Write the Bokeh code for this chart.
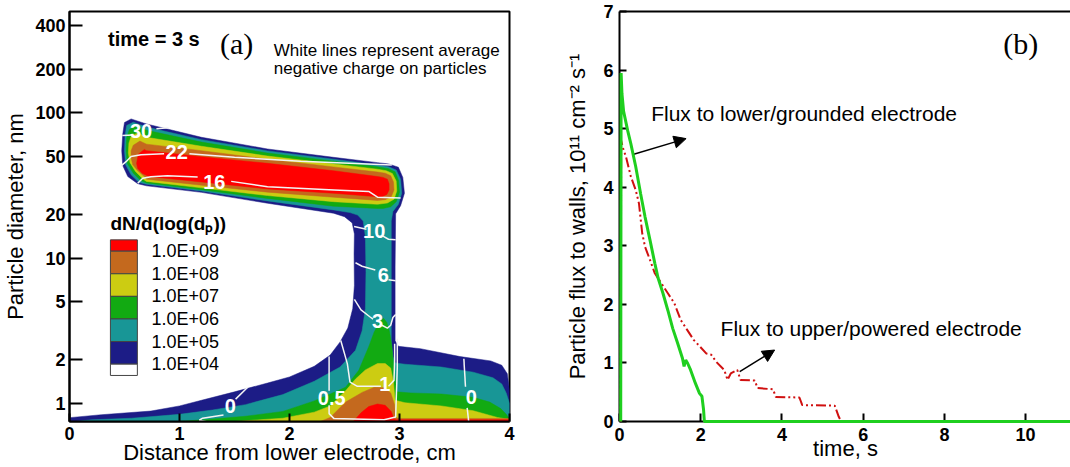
import math
from bokeh.plotting import figure
from bokeh.layouts import row
from bokeh.models import (Range1d, FixedTicker, NumeralTickFormatter, Label,
                          Arrow, NormalHead, LinearAxis, BoxAnnotation)
from bokeh.core.properties import value
from bokeh.embed import file_html
from bokeh.resources import INLINE

SANS = "Liberation Sans"
SERIF = "Liberation Serif"

# ---------------- panel (a): size distribution at t = 3 s ----------------
X_TICKS_A = [0, 1, 2, 3, 4]
D_TICKS = [1, 2, 5, 10, 20, 50, 100, 200, 400]
LEVEL_LABELS = ["1.0E+09", "1.0E+08", "1.0E+07", "1.0E+06", "1.0E+05", "1.0E+04"]
LEVEL_COLORS = ["#ff0000", "#c4691e", "#cccc12", "#12aa12", "#189696", "#1c1c86", "#ffffff"]

# filled regions (x in cm, diameter in nm), one list pair per region
B4_X = [0.484, 0.50, 0.56, 0.70, 1.20, 1.80, 2.40, 2.80, 2.90, 2.99, 3.03, 3.045, 3.01, 2.965,
        2.96, 2.96, 2.99, 3.19, 3.55, 3.83, 3.93, 3.98, 4.00, 4.00, 0.00, 0.00,
        0.29, 0.74, 1.00, 1.20, 1.50, 1.80, 2.00, 2.225, 2.37, 2.46, 2.53, 2.575, 2.59, 2.587, 2.59,
        2.57, 2.50, 2.40, 1.80, 1.20, 0.70, 0.62, 0.53, 0.484, 0.475]
B4_D = [71.7, 86, 91, 84, 68, 56.5, 49.5, 45.5, 44.6, 42.3, 36, 28, 23, 20.2,
        8.7, 2.7, 2.47, 2.38, 2.10, 1.96, 1.83, 1.60, 1.23, 0.75, 0.75, 0.797,
        0.835, 0.885, 0.96, 1.05, 1.20, 1.38, 1.52, 1.80, 2.15, 2.65, 3.3, 4.5, 6.5, 10.7, 14.7,
        17.5, 19.3, 20.4, 23.9, 28.4, 31.5, 32.6, 36.5, 43.4, 55]

B5_X = [0.505, 0.52, 0.58, 0.70, 1.20, 1.80, 2.40, 2.80, 2.90, 2.97, 3.01, 3.02, 2.99, 2.94,
        2.925, 2.925, 2.94, 2.96, 3.05, 3.38, 3.67, 3.85, 3.93, 3.97, 4.00, 4.00, 0.05,
        0.20, 0.565, 1.00, 1.30, 1.60, 1.94, 2.225, 2.46, 2.60, 2.66, 2.69, 2.695, 2.69, 2.67,
        2.62, 2.55, 2.40, 1.80, 1.20, 0.70, 0.63, 0.56, 0.51, 0.50]
B5_D = [70, 82, 86.5, 80, 65.5, 54.8, 48.0, 43.8, 42.6, 40.5, 35, 28, 23.5, 21,
        18, 2.6, 2.1, 1.9, 1.86, 1.78, 1.64, 1.50, 1.36, 1.18, 1.0, 0.75, 0.75,
        0.77, 0.79, 0.84, 0.90, 0.98, 1.15, 1.42, 1.78, 2.32, 3.16, 4.5, 8, 14, 18,
        19.8, 20.6, 21.5, 24.8, 29.0, 32.3, 33.3, 37.5, 44, 55]

B6_BAR_X = [0.515, 0.52, 0.545, 0.60, 0.70, 1.20, 1.80, 2.40, 2.80, 2.90, 2.96, 2.99, 3.00, 2.97,
            2.92, 2.85, 2.80, 2.40, 1.80, 1.20, 0.70, 0.65, 0.58, 0.525]
B6_BAR_D = [55, 68, 77, 81, 76, 63, 53.0, 46.6, 42.6, 41.3, 39.3, 34.5, 28.5, 24.5,
            22.6, 22.0, 22.0, 22.8, 25.8, 29.6, 33.0, 34.2, 38.5, 45]
B6_BASE_X = [1.00, 1.30, 1.60, 1.94, 2.225, 2.51, 2.63, 2.72, 2.77, 2.82, 2.855, 2.885, 2.91, 2.93,
             2.945, 2.975, 3.10, 3.38, 3.67, 3.82, 3.92, 3.97, 4.00, 4.00]
B6_BASE_D = [0.75, 0.78, 0.815, 0.88, 1.04, 1.29, 1.69, 2.45, 3.1, 3.65, 3.85, 3.6, 3.1, 2.5,
             1.9, 1.2, 1.18, 1.16, 1.10, 1.02, 0.92, 0.84, 0.78, 0.75]

B7_BAR_X = [0.535, 0.54, 0.56, 0.62, 0.70, 1.20, 1.80, 2.40, 2.80, 2.88, 2.935, 2.97, 2.975, 2.95,
            2.89, 2.80, 2.40, 1.80, 1.20, 0.70, 0.67, 0.60, 0.55]
B7_BAR_D = [53, 62, 69, 73, 68, 59, 50.5, 44.6, 41.0, 40.0, 38.3, 34, 29, 25.5,
            24.0, 23.5, 24.5, 27.0, 30.5, 33.8, 35.0, 39.5, 45.5]
B7_BASE_X = [1.50, 1.74, 1.94, 2.225, 2.37, 2.51, 2.60, 2.69, 2.80, 2.87, 2.92, 2.945, 2.96,
             3.05, 3.38, 3.67, 3.89, 4.00, 4.00]
B7_BASE_D = [0.75, 0.772, 0.79, 0.87, 0.96, 1.22, 1.47, 1.70, 1.88, 1.88, 1.75, 1.40, 1.05,
             1.01, 0.96, 0.89, 0.80, 0.775, 0.75]

B8_BAR_X = [0.56, 0.56, 0.58, 0.64, 0.70, 1.20, 1.80, 2.40, 2.80, 2.87, 2.92, 2.945, 2.95, 2.925,
            2.87, 2.80, 2.40, 1.80, 1.20, 0.70, 0.69, 0.62, 0.575]
B8_BAR_D = [49, 55, 60, 64, 61, 55, 48.0, 42.5, 39.2, 38.5, 37, 33.5, 29.5, 26.5,
            25.3, 25.0, 26.3, 28.5, 31.8, 35.0, 36.0, 40, 44]
B8_BASE_X = [2.28, 2.37, 2.51, 2.66, 2.77, 2.86, 2.92, 2.955, 2.965, 3.00, 4.00, 4.00]
B8_BASE_D = [0.75, 0.80, 1.02, 1.19, 1.29, 1.28, 1.18, 0.98, 0.80, 0.787, 0.787, 0.75]

B9_BAR_X = [0.61, 0.625, 0.68, 0.70, 1.20, 1.80, 2.40, 2.80, 2.85, 2.89, 2.905, 2.905, 2.885,
            2.84, 2.80, 2.40, 1.80, 1.20, 0.72, 0.66, 0.62]
B9_BAR_D = [45, 52, 56, 55, 50, 45.0, 40.0, 36.5, 36.0, 35, 32.5, 29.5, 27.5,
            26.5, 26.5, 28.0, 30.0, 33.5, 36.5, 38.5, 41.5]
B9_BASE_X = [2.58, 2.65, 2.72, 2.80, 2.87, 2.925, 2.95, 2.97, 4.00, 4.00]
B9_BASE_D = [0.75, 0.86, 0.95, 0.99, 0.97, 0.88, 0.78, 0.772, 0.772, 0.75]

# white iso-lines of average negative charge (segments broken at their labels)
CHARGE_SEG_X = [
    [0.48, 0.58], [0.79, 0.90],
    [0.469, 0.514, 0.56, 0.65, 0.86], [1.09, 1.50, 2.10, 2.71, 2.93],
    [0.62, 0.666, 0.74, 0.89, 1.165], [1.47, 1.80, 2.405, 2.72, 2.80, 3.01],
    [2.587, 2.70], [2.85, 2.90, 2.965],
    [2.60, 2.66, 2.78], [2.90, 2.965],
    [2.59, 2.65, 2.73, 2.76], [2.84, 2.89, 2.92, 2.94, 2.965],
    [2.466, 2.50, 2.526, 2.55, 2.617, 2.83], [2.90, 2.95, 2.956, 2.956],
    [2.36, 2.36], [2.36, 2.36, 2.405, 2.86, 2.965, 2.98, 2.98],
    [1.62, 1.51], [1.40, 1.21, 1.18, 1.27],
    [3.585, 3.60], [3.615, 3.63],
]
CHARGE_SEG_D = [
    [70, 70.5], [78, 79],
    [43.2, 46.2, 50.1, 51.6, 52.3], [52.3, 49.5, 46.5, 44.6, 43.8],
    [32.8, 35.5, 36.4, 37.0, 36.3], [33.8, 31.0, 29.5, 28.8, 26.3, 26.0],
    [16.5, 15.8], [14.2, 13.5, 13.4],
    [9.3, 8.8, 8.3], [7.1, 7.0],
    [5.2, 4.4, 3.95, 3.8], [3.45, 3.3, 3.45, 3.9, 4.1],
    [2.71, 2.2, 1.87, 1.40, 1.31, 1.31], [1.31, 1.44, 2.0, 2.57],
    [2.1, 1.22], [0.97, 0.85, 0.785, 0.772, 0.805, 1.78, 2.79],
    [1.29, 1.07], [0.83, 0.79, 0.765, 0.74],
    [2.03, 1.30], [0.93, 0.74],
]
CHARGE_TEXT = ["30", "22", "16", "10", "6", "3", "1", "0.5", "0", "0"]
CHARGE_X = [0.65, 0.974, 1.316, 2.77, 2.853, 2.80, 2.866, 2.384, 1.461, 3.652]
CHARGE_D = [75.5, 53.6, 33.7, 15.5, 7.6, 3.69, 1.37, 1.09, 0.953, 1.105]

# ---------------- panel (b): particle flux to the electrodes ----------------
X_TICKS_B = [0, 2, 4, 6, 8, 10, 12]
Y_TICKS_B = [0, 1, 2, 3, 4, 5, 6, 7]
T_LOWER = [0.03, 0.04, 0.06, 0.10, 0.20, 0.28, 0.40, 0.52, 0.63, 0.75, 0.87, 0.95, 1.07, 1.19,
           1.31, 1.43, 1.55, 1.59, 1.63, 1.68, 1.75, 1.87, 1.97, 2.03, 2.07, 2.09, 11.5]
F_LOWER = [0.0, 5.95, 5.6, 5.3, 4.97, 4.74, 4.35, 3.89, 3.49, 3.10, 2.70, 2.45, 2.19, 1.90,
           1.59, 1.34, 1.08, 0.94, 1.05, 0.99, 0.88, 0.65, 0.48, 0.43, 0.2, 0.0, 0.0]
T_UPPER = [0.03, 0.04, 0.08, 0.16, 0.28, 0.40, 0.48, 0.56, 0.63, 0.75, 0.87, 1.03, 1.19, 1.35,
           1.51, 1.67, 1.83, 1.98, 2.14, 2.26, 2.38, 2.58, 2.66, 2.74, 2.90, 2.98, 3.33, 3.40,
           3.78, 3.85, 4.43, 4.50, 5.30, 5.40, 5.46]
F_UPPER = [0.0, 4.8, 4.68, 4.52, 4.18, 3.95, 3.72, 3.21, 2.98, 2.76, 2.53, 2.36, 2.19, 2.02,
           1.73, 1.56, 1.39, 1.28, 1.16, 1.14, 1.02, 0.88, 0.71, 0.82, 0.88, 0.71, 0.70, 0.57,
           0.55, 0.42, 0.41, 0.28, 0.27, 0.08, 0.0]

D_LO, D_HI = 0.75, 500.0


def d_at(frac_from_top):
    lo, hi = math.log10(D_LO), math.log10(D_HI)
    return 10 ** (hi - frac_from_top * (hi - lo))


def add_label(p, x, y, text, size, bold=False, color="black", font=SANS,
              align="left", baseline="middle"):
    p.add_layout(Label(x=x, y=y, text=text, text_font=font,
                       text_font_size=f"{size}px",
                       text_font_style="bold" if bold else "normal",
                       text_color=color, text_align=align, text_baseline=baseline))


def style_axis(ax, label, ticks, tick_bold, tick_in, tick_out, standoff, label_standoff):
    ax.ticker = FixedTicker(ticks=ticks, minor_ticks=[])
    ax.axis_label = label
    ax.axis_label_text_font = SANS
    ax.axis_label_text_font_size = "22px"
    ax.axis_label_text_font_style = "normal"
    ax.axis_label_text_color = "black"
    ax.axis_label_standoff = label_standoff
    ax.major_label_text_font = SANS
    ax.major_label_text_font_size = "18px"
    ax.major_label_text_font_style = "bold" if tick_bold else "normal"
    ax.major_label_text_color = "black"
    ax.major_label_standoff = standoff
    ax.major_tick_in = tick_in
    ax.major_tick_out = tick_out
    ax.major_tick_line_width = 2
    ax.major_tick_line_color = "black"
    ax.minor_tick_line_color = None
    ax.axis_line_width = 2
    ax.axis_line_color = "black"


# ---------- figure (a) ----------
pa = figure(frame_width=440, frame_height=410, x_range=Range1d(0, 4),
            y_range=Range1d(D_LO, D_HI), y_axis_type="log",
            output_backend="svg", toolbar_location=None,
            min_border_left=68, min_border_right=32, min_border_top=11, min_border_bottom=5)
pa.grid.visible = False
pa.outline_line_color = "black"
pa.outline_line_width = 2
pa.background_fill_color = "white"
pa.border_fill_color = "white"

style_axis(pa.xaxis[0], "Distance from lower electrode, cm", X_TICKS_A, True, 8, 0, 5, -3)
style_axis(pa.yaxis[0], "Particle diameter, nm", D_TICKS, True, 13, 0, 4, 4)
pa.yaxis[0].formatter = NumeralTickFormatter(format="0")

region_xs = [B4_X, B5_X, B6_BAR_X, B6_BASE_X, B7_BAR_X, B7_BASE_X, B8_BAR_X, B8_BASE_X,
             B9_BAR_X, B9_BASE_X]
region_ds = [B4_D, B5_D, B6_BAR_D, B6_BASE_D, B7_BAR_D, B7_BASE_D, B8_BAR_D, B8_BASE_D,
             B9_BAR_D, B9_BASE_D]
region_colors = [LEVEL_COLORS[5], LEVEL_COLORS[4], LEVEL_COLORS[3], LEVEL_COLORS[3],
                 LEVEL_COLORS[2], LEVEL_COLORS[2], LEVEL_COLORS[1], LEVEL_COLORS[1],
                 LEVEL_COLORS[0], LEVEL_COLORS[0]]
pa.patches(xs=region_xs, ys=region_ds, fill_color=region_colors, line_color=region_colors,
           line_width=0.5)

pa.multi_line(xs=CHARGE_SEG_X, ys=CHARGE_SEG_D, line_color="#f4f4f4", line_width=1.5)
pa.text(x=CHARGE_X, y=CHARGE_D, text=CHARGE_TEXT, text_font=value(SANS),
        text_font_size="20px", text_font_style="bold", text_color="white",
        text_align="center", text_baseline="middle")

add_label(pa, 0.35, d_at(0.0666), "time = 3 s", 20, bold=True)
add_label(pa, 1.52, d_at(0.0788), "(a)", 30, font=SERIF, align="center")
add_label(pa, 1.857, d_at(0.0951), "White lines represent average", 17)
add_label(pa, 1.857, d_at(0.1398), "negative charge on particles", 17)

# legend of contour levels
add_label(pa, 0.372, d_at(0.516), "dN/d(log(dₚ))", 19, bold=True)
edges = [0.557, 0.5846, 0.6397, 0.6948, 0.7499, 0.8050, 0.8601, 0.8877]
for i, col in enumerate(LEVEL_COLORS):
    pa.add_layout(BoxAnnotation(left=0.372, right=0.617, top=d_at(edges[i]),
                                bottom=d_at(edges[i + 1]), fill_color=col, fill_alpha=1.0,
                                line_color="#444444", line_width=1, line_alpha=1.0))
for i, lab in enumerate(LEVEL_LABELS):
    add_label(pa, 0.745, d_at(edges[i + 1]), lab, 18)

# ---------- figure (b) ----------
pb = figure(frame_width=452, frame_height=410, x_range=Range1d(0, 11.13),
            y_range=Range1d(0, 7), output_backend="svg", toolbar_location=None,
            min_border_left=78, min_border_right=0, min_border_top=11, min_border_bottom=5)
pb.grid.visible = False
pb.outline_line_color = None
pb.background_fill_color = "white"
pb.border_fill_color = "white"

style_axis(pb.xaxis[0], "time, s", X_TICKS_B, True, 8, 0, 6, -8)
style_axis(pb.yaxis[0], "Particle flux to walls, 10¹¹ cm⁻² s⁻¹", Y_TICKS_B, True, 7, 0, 6, 10)
top_line = LinearAxis(ticker=FixedTicker(ticks=[], minor_ticks=[]), axis_line_width=2,
                      axis_line_color="black", major_tick_in=0, major_tick_out=0,
                      minor_tick_in=0, minor_tick_out=0)
pb.add_layout(top_line, "above")

r_up = pb.line(T_UPPER, F_UPPER, line_color="#d01010", line_width=2,
               line_dash="10 3 2 3 2 3")
r_up.level = "overlay"
r_low = pb.line(T_LOWER, F_LOWER, line_color="#1fcf1f", line_width=3)
r_low.level = "overlay"

pb.add_layout(Arrow(end=NormalHead(size=12, fill_color="black", line_color="black"),
                    x_start=0.33, y_start=4.56, x_end=1.64, y_end=4.83,
                    line_color="black", line_width=1.5))
pb.add_layout(Arrow(end=NormalHead(size=12, fill_color="black", line_color="black"),
                    x_start=2.96, y_start=0.85, x_end=3.82, y_end=1.22,
                    line_color="black", line_width=1.5))
add_label(pb, 0.78, 5.26, "Flux to lower/grounded electrode", 21)
add_label(pb, 2.49, 1.59, "Flux to upper/powered electrode", 21)
add_label(pb, 9.88, 6.45, "(b)", 30, font=SERIF, align="center")

layout = row(pa, pb)
open("out.html", "w").write(file_html(layout, INLINE))
